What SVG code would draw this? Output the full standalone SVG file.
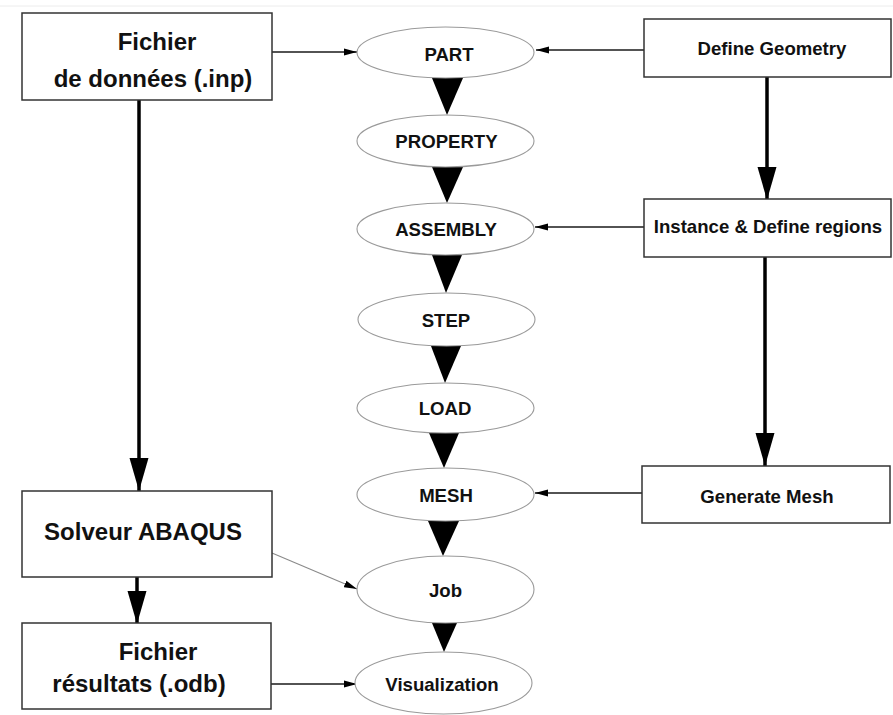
<svg xmlns="http://www.w3.org/2000/svg" width="893" height="715" viewBox="0 0 893 715">
<style>
.bg{fill:#ffffff}
.box{fill:#ffffff;stroke:#333333;stroke-width:1.5}
.ell{fill:#ffffff;stroke:#9a9a9a;stroke-width:1.1}
.t{font-family:"Liberation Sans",Arial,sans-serif;font-weight:bold;fill:#111111;text-anchor:middle}
.big{font-size:24px}
.sm{font-size:18.6px}
.thin{stroke:#1a1a1a;stroke-width:1.4;fill:none}
.gray{stroke:#8a8a8a;stroke-width:1.1;fill:none}
.thick{stroke:#000000;stroke-width:3.5;fill:none}
.tri{fill:#000000}
</style>
<defs>
<marker id="sa" markerUnits="userSpaceOnUse" markerWidth="14" markerHeight="8" refX="13" refY="4" orient="auto">
<path d="M0,0.5 L13,4 L0,7.5 Z" fill="#000"/>
</marker>
<marker id="ba" markerUnits="userSpaceOnUse" markerWidth="34" markerHeight="20" refX="33" refY="10" orient="auto">
<path d="M0,0.5 L33,10 L0,19.5 Z" fill="#000"/>
</marker>
</defs>
<rect class="bg" x="0" y="0" width="893" height="715"/>
<line x1="0" y1="6" x2="893" y2="6" stroke="#ececec" stroke-width="1"/>

<g id="connectors">
<line class="thin" x1="272" y1="52" x2="357" y2="52" marker-end="url(#sa)"/>
<line class="thin" x1="644" y1="50" x2="536" y2="50" marker-end="url(#sa)"/>
<line class="thin" x1="644" y1="227" x2="535" y2="227" marker-end="url(#sa)"/>
<line class="thin" x1="642" y1="493" x2="535" y2="493" marker-end="url(#sa)"/>
<line class="gray" x1="272" y1="553" x2="357" y2="589" marker-end="url(#sa)"/>
<line class="thin" x1="271" y1="684" x2="357" y2="684" marker-end="url(#sa)"/>
<line class="thick" x1="139" y1="100" x2="139" y2="491" marker-end="url(#ba)"/>
<line class="thick" x1="137" y1="577" x2="137" y2="624" marker-end="url(#ba)"/>
<line class="thick" x1="767" y1="77" x2="767" y2="200" marker-end="url(#ba)"/>
<line class="thick" x1="765" y1="257" x2="765" y2="466" marker-end="url(#ba)"/>
<polygon class="tri" points="432,78 463,78 447,115"/>
<polygon class="tri" points="432,167 463,167 447,203"/>
<polygon class="tri" points="432,255 462,255 446,293"/>
<polygon class="tri" points="431,346 461,346 445,383"/>
<polygon class="tri" points="429,433 459,433 444,468"/>
<polygon class="tri" points="428,521 459,521 443,556"/>
<polygon class="tri" points="432,623 457,623 444,652"/>
</g>

<g id="fichier-donnees">
<rect class="box" x="22" y="13" width="250" height="87"/>
<text class="t big" x="157" y="50">Fichier</text>
<text class="t big" x="153" y="87">de données (.inp)</text>
</g>
<g id="solveur">
<rect class="box" x="22" y="491" width="250" height="86"/>
<text class="t big" x="143" y="540">Solveur ABAQUS</text>
</g>
<g id="fichier-resultats">
<rect class="box" x="22" y="623" width="249" height="86"/>
<text class="t big" x="158" y="660">Fichier</text>
<text class="t big" x="139" y="692">résultats (.odb)</text>
</g>

<g id="define-geometry">
<rect class="box" x="644" y="19" width="247" height="58"/>
<text class="t sm" x="772" y="55">Define Geometry</text>
</g>
<g id="instance">
<rect class="box" x="644" y="199" width="247" height="58"/>
<text class="t sm" x="768" y="233">Instance &amp; Define regions</text>
</g>
<g id="generate-mesh">
<rect class="box" x="642" y="466" width="248" height="57"/>
<text class="t sm" x="767" y="503">Generate Mesh</text>
</g>

<g id="part">
<ellipse class="ell" cx="445.5" cy="52.5" rx="88.5" ry="25.5"/>
<text class="t sm" x="449" y="61">PART</text>
</g>
<g id="property">
<ellipse class="ell" cx="445.5" cy="141" rx="88.5" ry="26"/>
<text class="t sm" x="446.5" y="148">PROPERTY</text>
</g>
<g id="assembly">
<ellipse class="ell" cx="445.5" cy="229" rx="88.5" ry="26"/>
<text class="t sm" x="446" y="236">ASSEMBLY</text>
</g>
<g id="step">
<ellipse class="ell" cx="446.5" cy="319.5" rx="88.5" ry="26.5"/>
<text class="t sm" x="446" y="326.5">STEP</text>
</g>
<g id="load">
<ellipse class="ell" cx="445.5" cy="408" rx="88.5" ry="25"/>
<text class="t sm" x="445" y="415">LOAD</text>
</g>
<g id="mesh">
<ellipse class="ell" cx="445.5" cy="494.5" rx="88.5" ry="26.5"/>
<text class="t sm" x="446" y="501.5">MESH</text>
</g>
<g id="job">
<ellipse class="ell" cx="445.5" cy="589.5" rx="88.5" ry="33.5"/>
<text class="t sm" x="445.5" y="597">Job</text>
</g>
<g id="visualization">
<ellipse class="ell" cx="443.5" cy="683" rx="88.5" ry="31"/>
<text class="t sm" x="442" y="691">Visualization</text>
</g>
</svg>
